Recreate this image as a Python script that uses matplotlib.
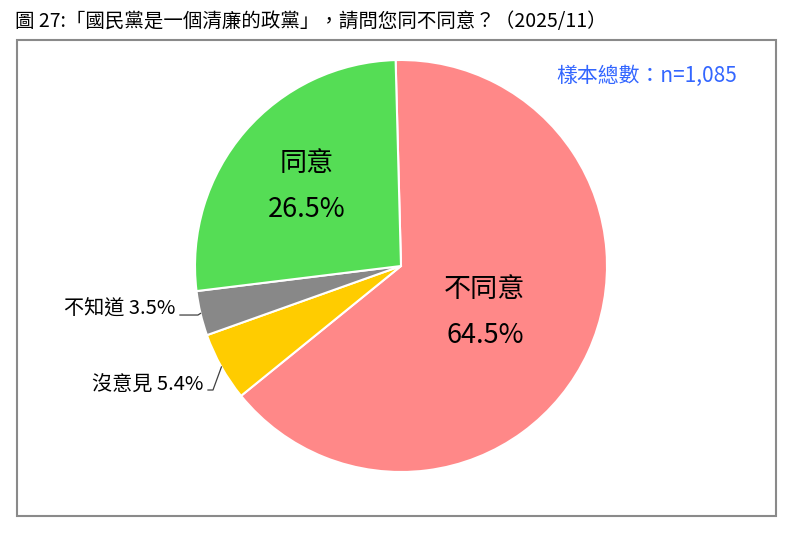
import numpy as np
import matplotlib
matplotlib.use('Agg')
import matplotlib.pyplot as plt
from matplotlib.patches import Rectangle

plt.rcParams['font.family'] = ['Noto Sans CJK TC', 'DejaVu Sans']

# data
labels = ['不同意', '沒意見', '不知道', '同意']
values = [64.5, 5.4, 3.5, 26.5]
colors = ['#FF8888', '#FFCC00', '#888888', '#55DD55']
title = '圖 27:「國民黨是一個清廉的政黨」，請問您同不同意？（2025/11）'
sample = '樣本總數：n=1,085'

W, H = 800, 551
fig = plt.figure(figsize=(W / 100, H / 100), dpi=100)
fig.patch.set_facecolor('white')

# outer frame
fig.patches.append(Rectangle((17 / W, 1 - 516 / H), (776 - 17) / W, (516 - 40) / H,
                             transform=fig.transFigure, fill=False,
                             edgecolor='#8a8a8a', lw=1.5))

fig.text(15 / W, 1 - 21 / H, title, fontsize=14, ha='left', va='center', color='black')
fig.text(737 / W, 1 - 76 / H, sample, fontsize=15, ha='right', va='center', color='#3366FF')

# pie axes: centre (401,266), radius 206 px
cx, cy, R = 401, 266, 206
ax = fig.add_axes([(cx - R) / W, (H - cy - R) / H, 2 * R / W, 2 * R / H])

start = 91.5
wedges, _ = ax.pie(values, colors=colors, startangle=start, counterclock=False,
                   radius=1, wedgeprops=dict(edgecolor='white', linewidth=1.5))
ax.set_xlim(-1, 1)
ax.set_ylim(-1, 1)
ax.set_aspect('equal')
ax.axis('off')

def mid_angle(w):
    return np.deg2rad((w.theta1 + w.theta2) / 2)

# inside labels (radius, angle shift in degrees)
px = 1 / R  # one pixel in data units
for i, r, shift in [(0, 0.467, -4.5), (3, 0.60, 0.5)]:
    a = mid_angle(wedges[i]) + np.deg2rad(shift)
    x, y = r * np.cos(a), r * np.sin(a)
    ax.text(x, y + 23 * px, labels[i], fontsize=19.5, ha='center', va='center')
    ax.text(x, y - 23 * px, f'{values[i]}%', fontsize=19.5, ha='center', va='center')

# outside labels with leader lines (line start, horizontal run in px, text lift in px)
for i, (lx, ly, run, lift) in [(2, (-1.073, -0.238, 18, 6)), (1, (-0.937, -0.602, 5, 5))]:
    a = mid_angle(wedges[i])
    ex, ey = np.cos(a), np.sin(a)
    ax.plot([lx, lx + run * px, ex], [ly, ly, ey], color='#404040', lw=0.9,
            clip_on=False)
    ax.text(lx - 5 * px, ly + lift * px, f'{labels[i]} {values[i]}%', fontsize=14.5,
            ha='right', va='center')

fig.savefig('out.png', dpi=100, facecolor='white')
